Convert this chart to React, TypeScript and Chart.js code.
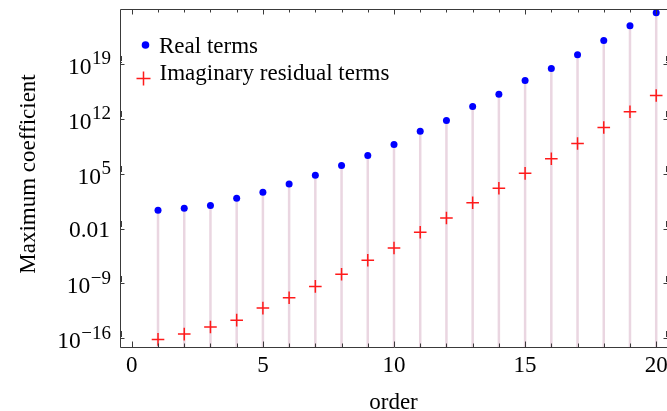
import React, { useEffect, useRef } from 'react';
import { Chart, registerables } from 'chart.js';

Chart.register(...registerables);

const ORDERS = [1, 2, 3, 4, 5, 6, 7, 8, 9, 10, 11, 12, 13, 14, 15, 16, 17, 18, 19, 20];
const REAL_TERMS = [
  2.1, 3.9, 8.5, 72, 420, 4.9e3, 6.2e4, 1.1e6, 2.1e7, 5.4e8,
  2.5e10, 6.2e11, 3.7e13, 1.3e15, 7.6e16, 2.5e18, 1.5e20, 9.3e21, 7.4e23, 3.4e25,
];
const IMAG_TERMS = [
  7.4e-17, 3.5e-16, 2.8e-15, 2.1e-14, 7.2e-13, 1.5e-11, 4.2e-10, 1.5e-8, 9.3e-7, 3.4e-5,
  3.4e-3, 0.22, 20, 1.4e3, 1.1e5, 8.1e6, 7.2e8, 7.9e10, 7.8e12, 9.3e14,
];

const X_TICKS = [0, 5, 10, 15, 20];
const Y_TICK_VALUES = [1e-16, 1e-9, 0.01, 1e5, 1e12, 1e19];
const Y_TICK_BASES = ['10', '10', '0.01', '10', '10', '10'];
const Y_TICK_EXPONENTS = ['\u221216', '\u22129', '', '5', '12', '19'];

const X_MIN = -0.45;
const X_MAX = 20.45;
const Y_MIN = 7.9e-18;
const Y_MAX = 1e26;

const X_TITLE = 'order';
const Y_TITLE = 'Maximum coefficient';
const LEGEND_LABELS = ['Real terms', 'Imaginary residual terms'];

const FONT = '"Liberation Serif", "Times New Roman", serif';
const BLUE = '#0000ff';
const RED = '#ff1a1a';
const STEM = '#ead6e1';
const FRAME = '#3a3a3a';

const decorPlugin = {
  id: 'decor',
  afterDraw(chart: any) {
    const { ctx, chartArea } = chart;
    const xs = chart.scales.x;
    const ys = chart.scales.y;
    const L = chartArea.left, R = chartArea.right, T = chartArea.top, B = chartArea.bottom;
    ctx.save();
    ctx.strokeStyle = FRAME;
    ctx.lineWidth = 1;
    ctx.beginPath();
    ctx.moveTo(L + 0.5, T + 0.5);
    ctx.lineTo(R + 0.5, T + 0.5);
    ctx.lineTo(R + 0.5, B + 0.5);
    ctx.lineTo(L + 0.5, B + 0.5);
    ctx.closePath();
    ctx.stroke();

    ctx.beginPath();
    for (let i = Math.ceil(X_MIN); i <= Math.floor(X_MAX); i++) {
      const px = Math.round(xs.getPixelForValue(i)) + 0.5;
      const len = i % 5 === 0 ? 5.5 : 3.5;
      ctx.moveTo(px, B);
      ctx.lineTo(px, B - len);
      ctx.moveTo(px, T);
      ctx.lineTo(px, T + len);
    }
    Y_TICK_VALUES.forEach((v) => {
      const py = Math.round(ys.getPixelForValue(v)) + 0.5;
      ctx.moveTo(L, py);
      ctx.lineTo(L + 4.5, py);
      ctx.moveTo(R, py);
      ctx.lineTo(R - 4.5, py);
      for (let m = 2; m <= 9; m++) {
        const pm = Math.round(ys.getPixelForValue(v * m)) + 0.5;
        ctx.moveTo(L, pm);
        ctx.lineTo(L + 2, pm);
        ctx.moveTo(R, pm);
        ctx.lineTo(R - 2, pm);
      }
    });
    ctx.stroke();

    ctx.fillStyle = '#000';
    ctx.font = `23px ${FONT}`;
    ctx.textAlign = 'center';
    ctx.textBaseline = 'alphabetic';
    X_TICKS.forEach((v) => {
      ctx.fillText(String(v), xs.getPixelForValue(v), 372);
    });

    const rightEdge = 111;
    Y_TICK_VALUES.forEach((v, i) => {
      const py = ys.getPixelForValue(v);
      const exp = Y_TICK_EXPONENTS[i];
      ctx.textAlign = 'right';
      if (exp) {
        ctx.font = `19px ${FONT}`;
        const w = ctx.measureText(exp).width;
        ctx.fillText(exp, rightEdge, py + 0.5);
        ctx.font = `23.5px ${FONT}`;
        ctx.fillText(Y_TICK_BASES[i], rightEdge - w - 0.5, py + 10);
      } else {
        ctx.font = `23.5px ${FONT}`;
        ctx.fillText(Y_TICK_BASES[i], rightEdge - 1, py + 8);
      }
    });

    ctx.font = `23px ${FONT}`;
    ctx.textAlign = 'center';
    ctx.fillText(X_TITLE, (L + 667) / 2, 409);
    ctx.save();
    ctx.translate(34.5, (T + B) / 2 - 4);
    ctx.rotate(-Math.PI / 2);
    ctx.fillText(Y_TITLE, 0, 0);
    ctx.restore();

    ctx.textAlign = 'left';
    ctx.font = `23px ${FONT}`;
    ctx.fillStyle = BLUE;
    ctx.beginPath();
    ctx.arc(145.5, 45, 3.8, 0, Math.PI * 2);
    ctx.fill();
    ctx.fillStyle = '#000';
    ctx.fillText(LEGEND_LABELS[0], 159, 52.5);
    ctx.strokeStyle = RED;
    ctx.lineWidth = 1.5;
    ctx.beginPath();
    ctx.moveTo(136.5, 78.5);
    ctx.lineTo(150.5, 78.5);
    ctx.moveTo(143.5, 71.5);
    ctx.lineTo(143.5, 85.5);
    ctx.stroke();
    ctx.fillText(LEGEND_LABELS[1], 159.5, 79.5);
    ctx.restore();
  },
};

export default function App() {
  const ref = useRef<HTMLCanvasElement | null>(null);
  useEffect(() => {
    if (!ref.current) return;
    const stemData: any[] = [];
    ORDERS.forEach((o, i) => {
      stemData.push({ x: o, y: Y_MIN });
      stemData.push({ x: o, y: REAL_TERMS[i] });
      stemData.push({ x: o, y: null });
    });
    const chart = new Chart(ref.current, {
      type: 'scatter',
      data: {
        datasets: [
          {
            label: 'stems',
            data: stemData,
            showLine: true,
            spanGaps: false,
            borderColor: STEM,
            borderWidth: 2.5,
            pointRadius: 0,
            order: 3,
          },
          {
            label: LEGEND_LABELS[0],
            data: ORDERS.map((o, i) => ({ x: o, y: REAL_TERMS[i] })),
            pointStyle: 'circle',
            pointRadius: 3.5,
            backgroundColor: BLUE,
            borderColor: BLUE,
            borderWidth: 0,
            order: 2,
          },
          {
            label: LEGEND_LABELS[1],
            data: ORDERS.map((o, i) => ({ x: o, y: IMAG_TERMS[i] })),
            pointStyle: 'cross',
            pointRadius: 6.3,
            backgroundColor: RED,
            borderColor: RED,
            borderWidth: 1.5,
            order: 1,
          },
        ],
      },
      options: {
        responsive: false,
        animation: false,
        devicePixelRatio: 1,
        layout: { autoPadding: false, padding: { left: 120, top: 9, right: 2, bottom: 64 } },
        scales: {
          x: { type: 'linear', min: X_MIN, max: X_MAX, display: false },
          y: { type: 'logarithmic', min: Y_MIN, max: Y_MAX, display: false },
        },
        plugins: {
          legend: { display: false },
          tooltip: { enabled: false },
        },
      },
      plugins: [decorPlugin],
    });
    return () => chart.destroy();
  }, []);
  return (
    <div
      style={{
        position: 'fixed',
        left: 0,
        top: 0,
        width: 667,
        height: 411,
        overflow: 'hidden',
        background: '#fff',
      }}
    >
      <canvas ref={ref} width={670} height={411} style={{ display: 'block', width: 670, height: 411 }} />
    </div>
  );
}
